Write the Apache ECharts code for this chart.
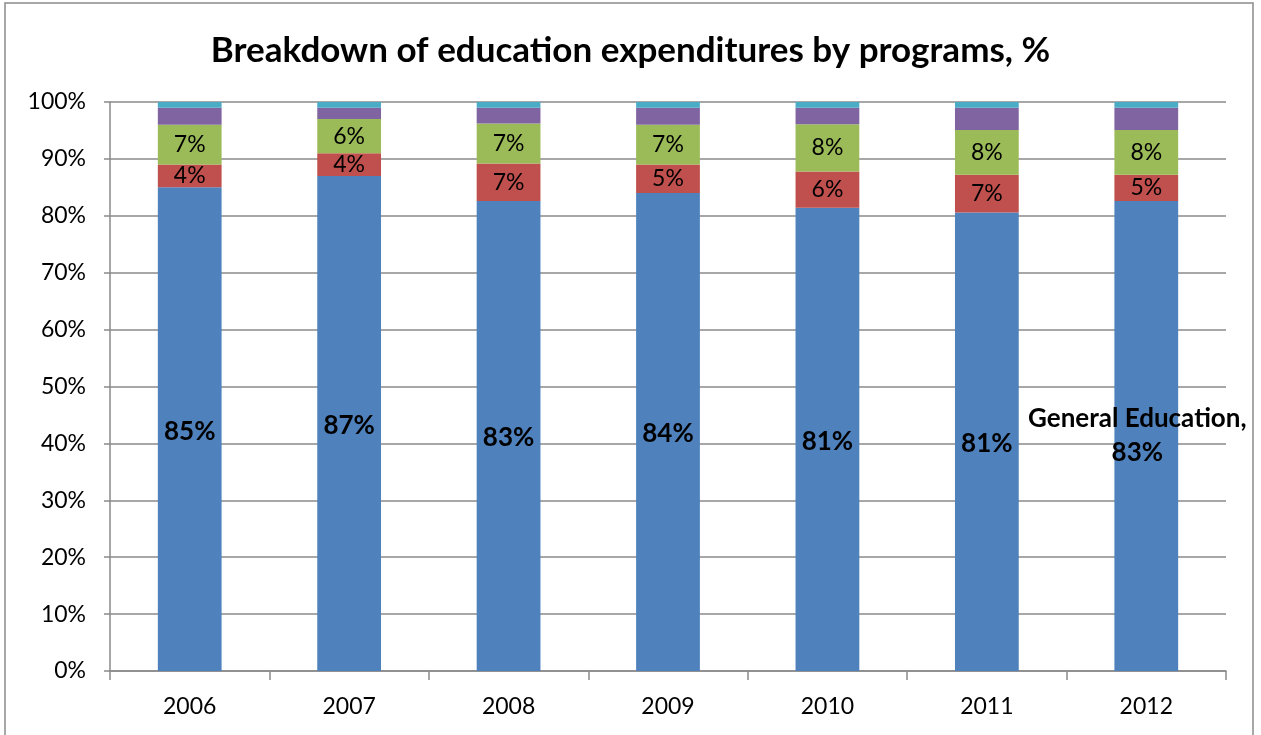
<!DOCTYPE html>
<html>
<head>
<meta charset="utf-8">
<script src="https://cdn.jsdelivr.net/npm/echarts@6/dist/echarts.min.js"></script>
<style>
  html, body { margin: 0; padding: 0; background: #fff; }
  #chart { width: 1261px; height: 735px; }
</style>
</head>
<body>
<div id="chart"></div>
<script>
// Education expenditure shares by program, per year (percent of total)
const years = ['2006', '2007', '2008', '2009', '2010', '2011', '2012'];
const generalEducation = [85, 87, 82.6, 84, 81.4, 80.6, 82.6];
const vocationalEducation = [4, 4, 6.6, 5, 6.4, 6.6, 4.6];
const higherEducation = [7, 6, 7.0, 7, 8.3, 7.9, 7.9];
const otherPrograms = [3, 2, 2.8, 3, 2.9, 3.9, 3.9];
const administration = [1, 1, 1.0, 1, 1.0, 1.0, 1.0];
const yTicks = [0, 10, 20, 30, 40, 50, 60, 70, 80, 90, 100];

const FONT = 'Lato';
const pct = p => Math.round(p.value) + '%';

const chart = echarts.init(document.getElementById('chart'), null, { renderer: 'canvas' });

const generalData = generalEducation.map((v, i) => {
  if (i !== generalEducation.length - 1) return v;
  return {
    value: v,
    label: {
      formatter: p => p.seriesName + ',\n' + Math.round(p.value) + '%',
      offset: [-9, 0],
      lineHeight: 34
    }
  };
});

const base = {
  type: 'bar',
  stack: 'total',
  barWidth: '40%',
  emphasis: { disabled: true }
};

chart.setOption({
  animation: false,
  textStyle: { fontFamily: FONT },
  graphic: [{
    type: 'rect',
    shape: { x: 5, y: 3, width: 1248, height: 760 },
    style: { fill: 'none', stroke: '#8a8a8a', lineWidth: 1.5 },
    silent: true
  }],
  title: {
    text: 'Breakdown of education expenditures by programs, %',
    left: 'center',
    top: 28,
    textStyle: { fontFamily: FONT, fontWeight: 'bold', fontSize: 35, color: '#000' }
  },
  grid: { left: 110, right: 35, top: 102, bottom: 64, containLabel: false },
  xAxis: {
    type: 'category',
    data: years,
    boundaryGap: true,
    axisLine: { lineStyle: { color: '#8a8a8a', width: 1.5 } },
    axisTick: { show: true, length: 9, lineStyle: { color: '#8a8a8a', width: 1.5 } },
    axisLabel: { color: '#000', fontSize: 23, margin: 24, fontFamily: FONT }
  },
  yAxis: {
    type: 'value',
    min: 0,
    max: 100,
    interval: 10,
    axisLine: { show: true, lineStyle: { color: '#8a8a8a', width: 1.5 } },
    axisTick: { show: true, length: 6, lineStyle: { color: '#8a8a8a', width: 1.5 } },
    splitLine: { show: true, lineStyle: { color: '#8a8a8a', width: 1.5 } },
    axisLabel: {
      color: '#000', fontSize: 23, margin: 24, fontFamily: FONT,
      formatter: v => (yTicks.includes(v) ? v + '%' : '')
    }
  },
  series: [
    Object.assign({}, base, {
      name: 'General Education',
      data: generalData,
      itemStyle: { color: '#4F81BD' },
      label: {
        show: true, position: 'inside', formatter: pct,
        color: '#000', fontSize: 26, fontWeight: 'bold', fontFamily: FONT,
        offset: [0, 2]
      }
    }),
    Object.assign({}, base, {
      name: 'Vocational Education',
      data: vocationalEducation,
      itemStyle: { color: '#C0504D' },
      label: { show: true, position: 'inside', formatter: pct, color: '#000', fontSize: 23, fontFamily: FONT }
    }),
    Object.assign({}, base, {
      name: 'Higher Education',
      data: higherEducation,
      itemStyle: { color: '#9BBB59' },
      label: { show: true, position: 'inside', formatter: pct, color: '#000', fontSize: 23, fontFamily: FONT }
    }),
    Object.assign({}, base, {
      name: 'Other Programs',
      data: otherPrograms,
      itemStyle: { color: '#8064A2' }
    }),
    Object.assign({}, base, {
      name: 'Administration',
      data: administration,
      itemStyle: { color: '#4BACC6' }
    })
  ]
});
</script>
</body>
</html>
